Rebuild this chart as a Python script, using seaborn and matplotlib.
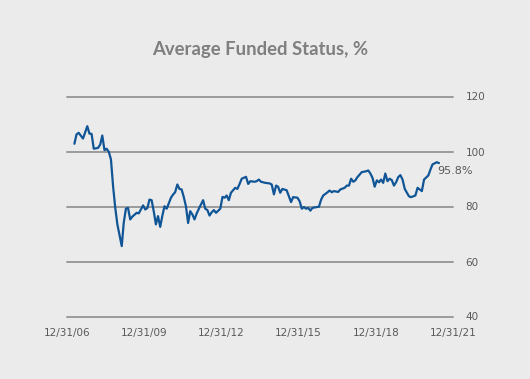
import matplotlib
matplotlib.use("Agg")
import matplotlib.pyplot as plt
import seaborn as sns
import pandas as pd

dates = [
    "2007-04", "2007-05", "2007-06", "2007-08", "2007-09", "2007-10", "2007-11", "2007-12",
    "2008-01", "2008-03", "2008-04", "2008-05", "2008-06", "2008-07", "2008-08", "2008-09",
    "2008-10", "2008-11", "2008-12", "2009-02", "2009-03", "2009-04", "2009-05", "2009-06",
    "2009-07", "2009-09", "2009-10", "2009-12", "2010-01", "2010-02", "2010-03", "2010-04",
    "2010-05", "2010-06", "2010-07", "2010-08", "2010-09", "2010-10", "2010-11", "2011-01",
    "2011-02", "2011-03", "2011-04", "2011-05", "2011-06", "2011-07", "2011-08", "2011-09",
    "2011-10", "2011-11", "2011-12", "2012-01", "2012-02", "2012-04", "2012-05", "2012-06",
    "2012-07", "2012-08", "2012-09", "2012-10", "2012-12", "2013-01", "2013-02", "2013-03",
    "2013-04", "2013-05", "2013-07", "2013-08", "2013-09", "2013-10", "2013-12", "2014-01",
    "2014-02", "2014-04", "2014-05", "2014-06", "2014-07", "2014-09", "2014-11", "2014-12",
    "2015-01", "2015-02", "2015-03", "2015-04", "2015-05", "2015-07", "2015-08", "2015-09",
    "2015-10", "2015-12", "2016-01", "2016-02", "2016-03", "2016-04", "2016-05", "2016-06",
    "2016-07", "2016-09", "2016-10", "2016-11", "2016-12", "2017-02", "2017-03", "2017-04",
    "2017-05", "2017-07", "2017-08", "2017-10", "2017-11", "2017-12", "2018-01", "2018-02",
    "2018-03", "2018-04", "2018-05", "2018-06", "2018-08", "2018-09", "2018-10", "2018-11",
    "2018-12", "2019-01", "2019-02", "2019-03", "2019-04", "2019-05", "2019-06", "2019-07",
    "2019-08", "2019-09", "2019-10", "2019-11", "2019-12", "2020-01", "2020-02", "2020-04",
    "2020-05", "2020-07", "2020-08", "2020-09", "2020-10", "2020-11", "2021-01", "2021-02",
    "2021-03", "2021-05", "2021-06",
]
funded_status = [
    102.8, 106.2, 106.8, 104.7, 107.0, 109.2, 106.5, 106.4,
    101.0, 101.3, 102.5, 105.8, 100.5, 101.0, 99.9, 97.1,
    87.4, 79.5, 73.5, 65.6, 74.0, 79.2, 79.5, 75.3,
    76.3, 77.7, 77.5, 80.4, 78.9, 79.5, 82.5, 82.3,
    78.3, 73.5, 76.5, 72.6, 76.7, 80.1, 79.2, 83.2,
    84.4, 85.2, 88.0, 86.4, 86.2, 83.5, 80.1, 74.0,
    78.3, 77.1, 75.3, 77.5, 79.2, 82.3, 79.2, 78.7,
    76.7, 77.9, 78.7, 77.7, 79.2, 83.5, 83.2, 84.0,
    82.3, 85.0, 86.8, 86.4, 88.2, 90.1, 90.8, 88.2,
    89.2, 89.0, 89.2, 89.8, 89.0, 88.6, 88.4, 88.0,
    84.4, 87.6, 87.2, 85.0, 86.4, 85.9, 83.7, 81.6,
    83.4, 83.2, 81.9, 79.2, 79.8, 79.2, 79.5, 78.5,
    79.5, 79.8, 79.9, 82.5, 84.0, 85.2, 85.8, 85.2,
    85.6, 85.3, 86.2, 86.8, 87.6, 87.6, 90.1, 89.0,
    89.5, 90.7, 91.6, 92.5, 92.8, 93.1, 92.0, 90.4,
    87.2, 89.5, 88.8, 89.8, 88.6, 92.0, 89.2, 90.1,
    89.6, 87.6, 88.8, 90.7, 91.4, 89.8, 86.4, 83.7,
    83.4, 84.0, 86.8, 86.2, 85.6, 89.8, 91.3, 93.5,
    95.3, 96.1, 95.8,
]
x_tick_dates = ["2006-12-31", "2009-12-31", "2012-12-31", "2015-12-31", "2018-12-31", "2021-12-31"]
x_tick_labels = ["12/31/06", "12/31/09", "12/31/12", "12/31/15", "12/31/18", "12/31/21"]
y_ticks = [40, 60, 80, 100, 120]
title = "Average Funded Status, %"
end_label = "95.8%"

# monthly observations, placed mid-month
df = pd.DataFrame({"date": pd.to_datetime(dates) + pd.Timedelta(days=14), "value": funded_status})

bg = "#EBEBEB"
sns.set_theme(style="white")
plt.rcParams["font.family"] = ["DejaVu Sans"]

fig = plt.figure(figsize=(5.30, 3.79), dpi=100, facecolor=bg)
ax = fig.add_axes([67 / 530, (379 - 316.5) / 379, (453 - 67) / 530, (316.5 - 96.5) / 379])
ax.set_facecolor(bg)

sns.lineplot(data=df, x="date", y="value", ax=ax, color="#105596", linewidth=1.6)

ax.set_xlim(pd.Timestamp(x_tick_dates[0]), pd.Timestamp(x_tick_dates[-1]))
ax.set_ylim(40, 120)
for v in y_ticks:
    ax.axhline(v, color="#9C9C9C", linewidth=1.44, zorder=0, clip_on=False)

ax.set_xticks(pd.to_datetime(x_tick_dates))
ax.set_xticklabels(x_tick_labels)
ax.set_yticks(y_ticks)
ax.yaxis.tick_right()
ax.tick_params(axis="both", length=0, labelsize=7.5, labelcolor="#595959")
ax.tick_params(axis="y", pad=9)
ax.tick_params(axis="x", pad=8)
ax.set_xlabel("")
ax.set_ylabel("")
for s in ax.spines.values():
    s.set_visible(False)

last = df.iloc[-1]
ax.annotate(end_label, xy=(last["date"], last["value"]), xytext=(-1, -6),
            textcoords="offset points", ha="left", va="center",
            fontsize=8, color="#595959")

fig.text(0.49, 1 - 50 / 379, title, ha="center", va="center",
         fontsize=13.3, fontweight="bold", color="#7F7F7F", family=["Lato", "DejaVu Sans"])

fig.savefig("out.png", dpi=100, facecolor=bg)
